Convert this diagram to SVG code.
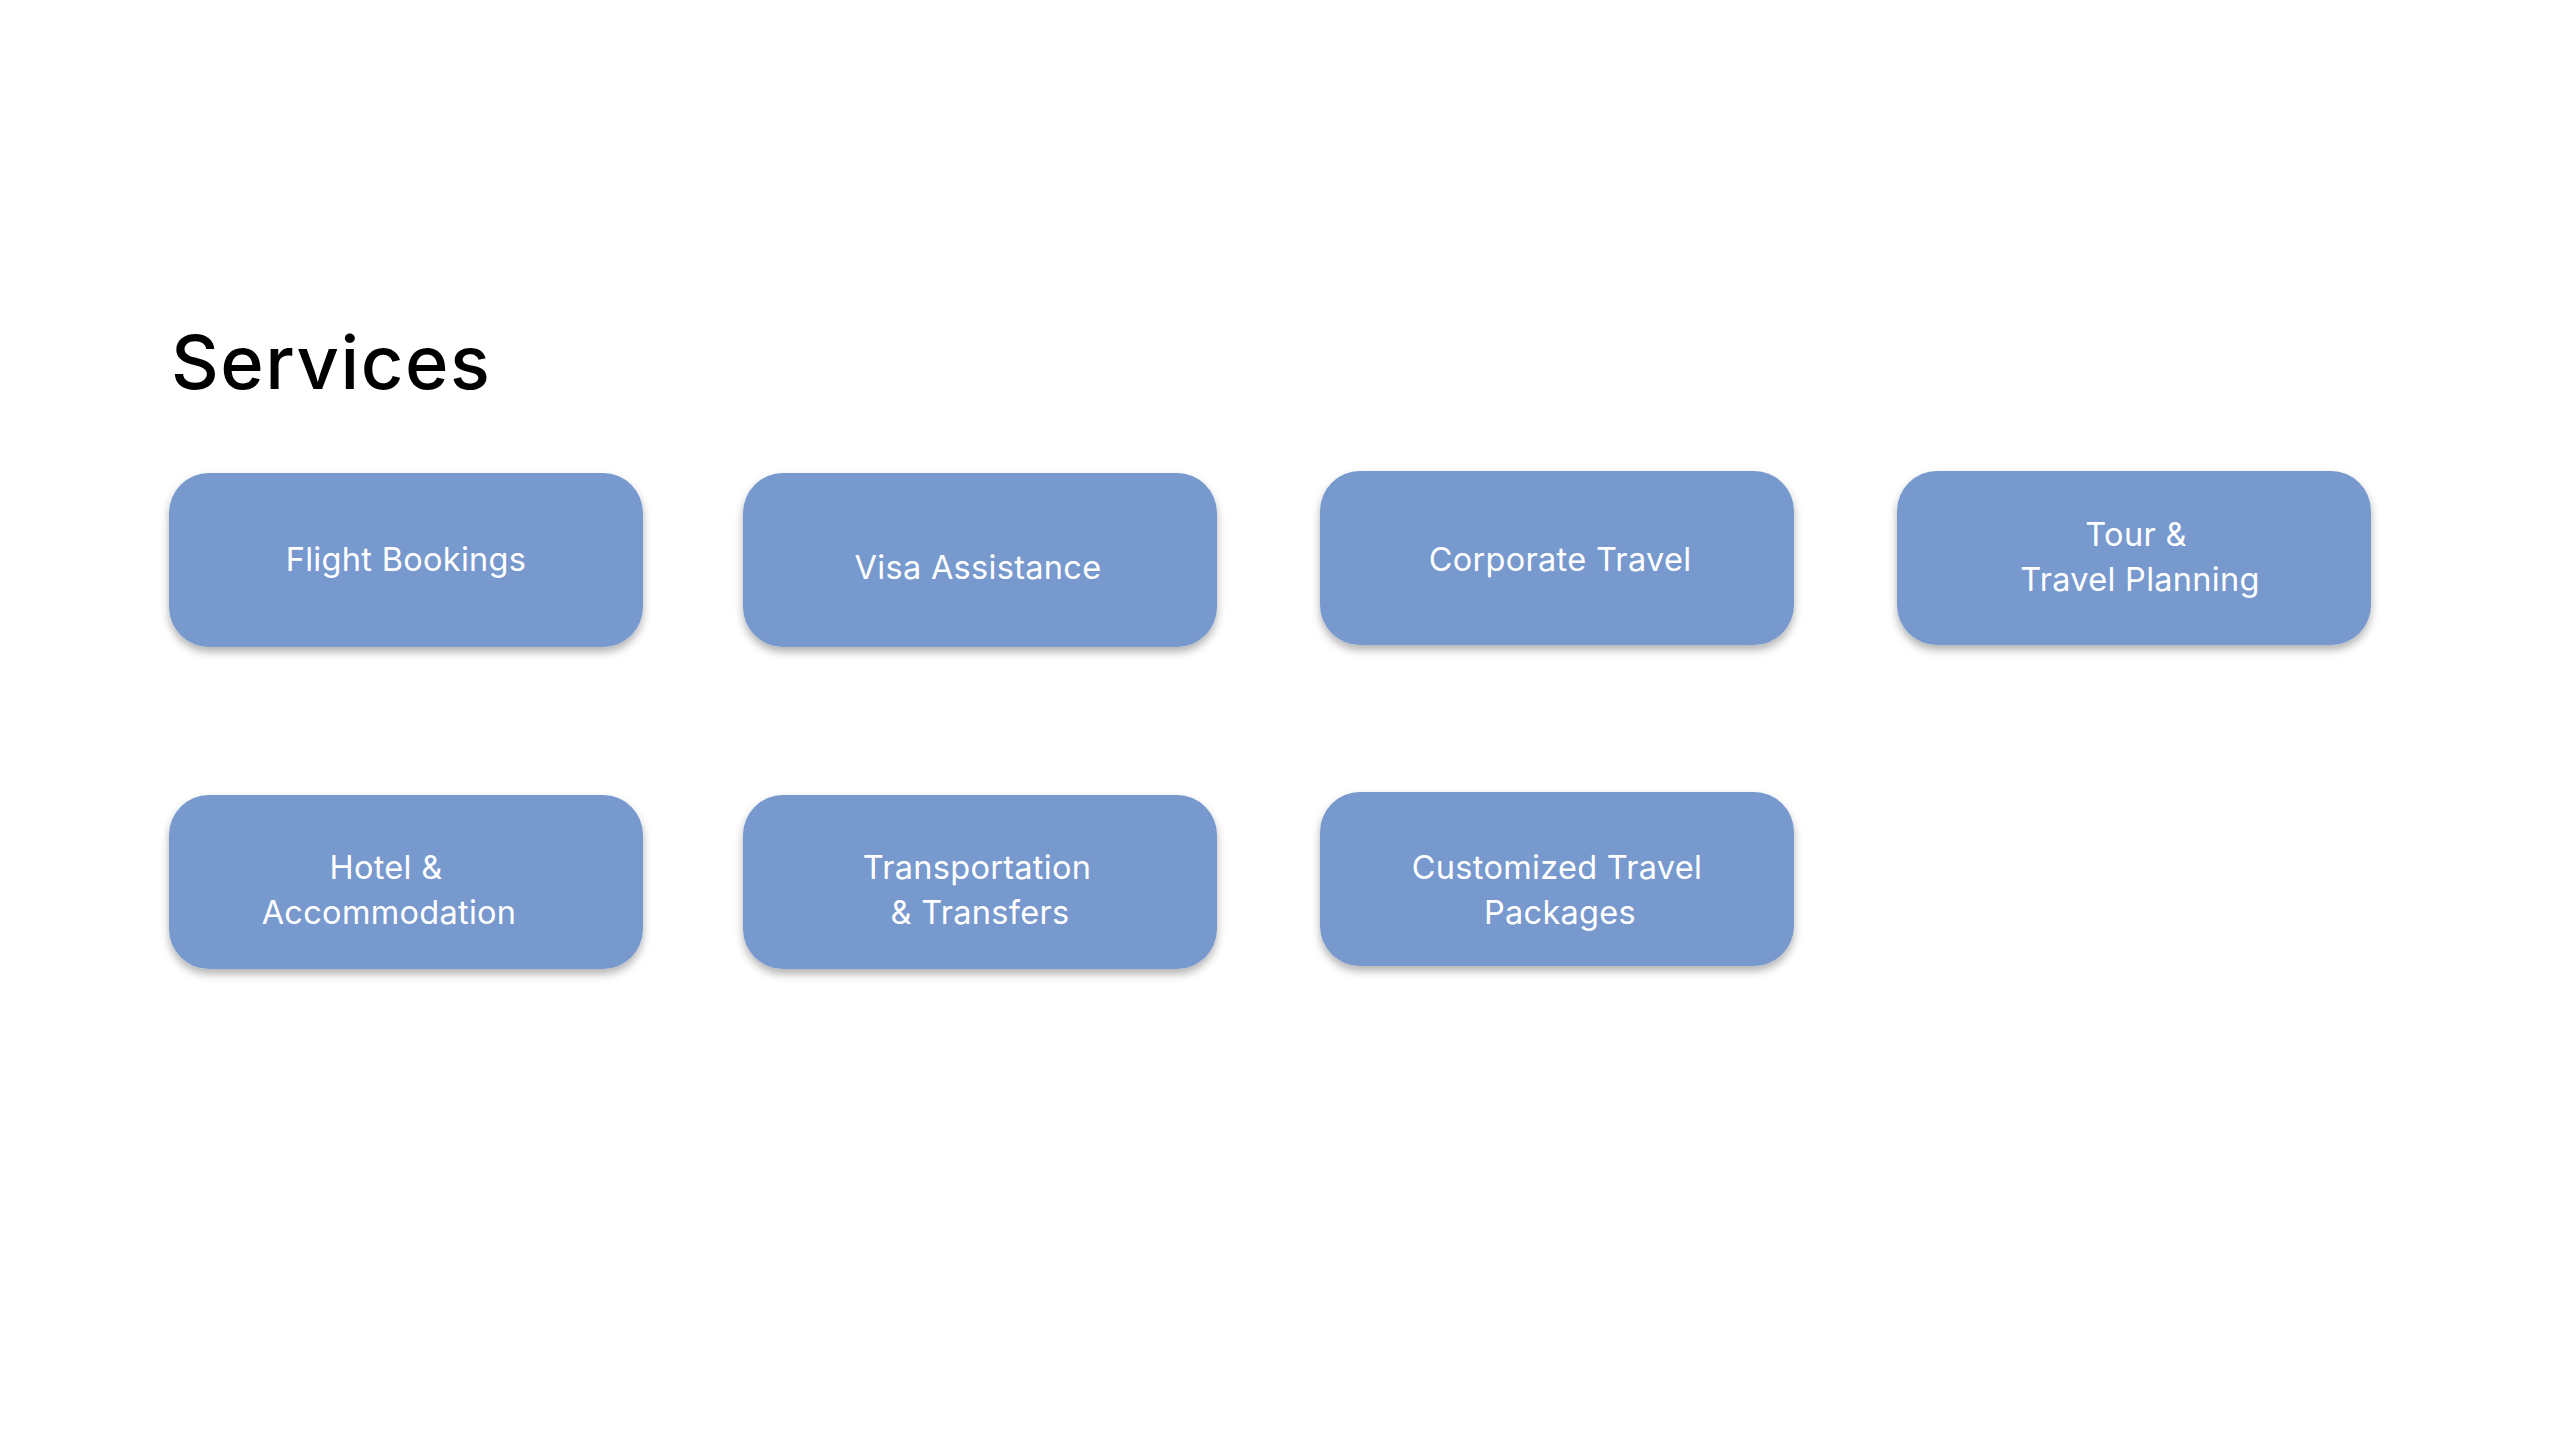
<svg xmlns="http://www.w3.org/2000/svg" width="2560" height="1440" viewBox="0 0 2560 1440">
<defs>
<filter id="sh" x="-10%" y="-10%" width="120%" height="130%">
<feDropShadow dx="0" dy="5" stdDeviation="4" flood-color="#000" flood-opacity="0.3"/>
</filter>
</defs>
<style>
.box{fill:#7799cd;filter:url(#sh)}
.lbl{font-family:Inter,"Open Sans",sans-serif;font-size:32.5px;fill:#ffffff;text-anchor:middle;letter-spacing:0.3px}
.title{font-family:Inter,"Open Sans",sans-serif;font-size:74px;font-weight:500;fill:#000;letter-spacing:1.5px}
</style>
<rect width="2560" height="1440" fill="#ffffff"/>
<text class="title" x="171" y="389">Services</text>
<g id="connectors"></g>
<g id="flight">
<rect class="box" x="169" y="473" width="474" height="174" rx="40"/>
<text class="lbl" x="406" y="571">Flight Bookings</text>
</g>
<g id="visa">
<rect class="box" x="743" y="473" width="474" height="174" rx="40"/>
<text class="lbl" x="978" y="579">Visa Assistance</text>
</g>
<g id="corporate">
<rect class="box" x="1320" y="471" width="474" height="174" rx="40"/>
<text class="lbl" x="1560" y="571">Corporate Travel</text>
</g>
<g id="tour">
<rect class="box" x="1897" y="471" width="474" height="174" rx="40"/>
<text class="lbl" x="2136" y="546">Tour &amp;</text>
<text class="lbl" x="2140" y="591">Travel Planning</text>
</g>
<g id="hotel">
<rect class="box" x="169" y="795" width="474" height="174" rx="40"/>
<text class="lbl" x="386" y="879">Hotel &amp;</text>
<text class="lbl" x="389" y="924">Accommodation</text>
</g>
<g id="transport">
<rect class="box" x="743" y="795" width="474" height="174" rx="40"/>
<text class="lbl" x="977" y="879">Transportation</text>
<text class="lbl" x="980" y="924">&amp; Transfers</text>
</g>
<g id="custom">
<rect class="box" x="1320" y="792" width="474" height="174" rx="40"/>
<text class="lbl" x="1557" y="879">Customized Travel</text>
<text class="lbl" x="1560" y="924">Packages</text>
</g>
</svg>
